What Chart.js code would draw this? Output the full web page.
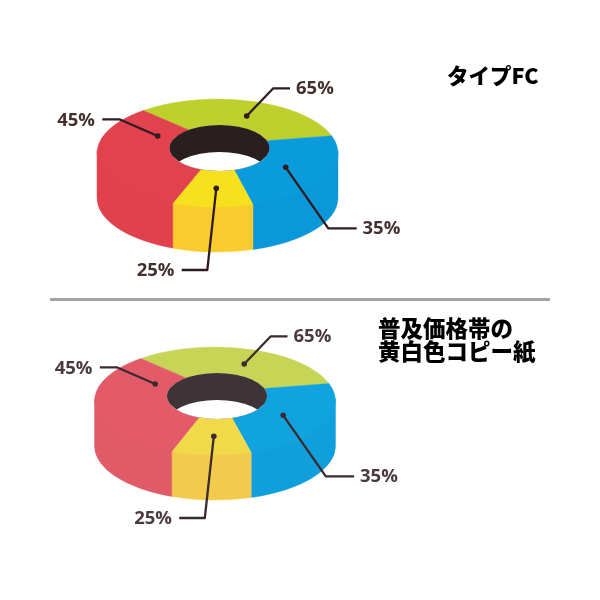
<!DOCTYPE html>
<html lang="ja">
<head>
<meta charset="utf-8">
<title>タイプFC / 普及価格帯の黄白色コピー紙</title>
<script src="https://cdn.jsdelivr.net/npm/chart.js@4"></script>
<style>
  html, body { margin: 0; padding: 0; background: #fff; }
  #page { position: relative; width: 600px; height: 600px; overflow: hidden; }
  canvas { position: absolute; left: 0; }
  #top { top: 0; }
  #bottom { top: 300px; }
  #rule { position: absolute; left: 50px; top: 298px; width: 500px; height: 3px; background: #a3a3a3; }
</style>
</head>
<body>
<div id="page">
  <canvas id="top" width="600" height="300"></canvas>
  <canvas id="bottom" width="600" height="300"></canvas>
  <div id="rule"></div>
</div>
<script>
// printed percentages, clockwise from the green slice
const percents = [65, 35, 25, 45];
// how much of the ring each slice takes in the picture (the printed numbers don't sum to 100)
const ringSharesFC = [30.4, 25.4, 10.8, 33.4];
const ringSharesPlain = [30.3, 25.4, 10.7, 33.6];
const titleFC = ['タイプFC'];
const titlePlain = ['普及価格帯の', '黄白色コピー紙'];

const topColorsFC = ['#bdd02e', '#0a9bdd', '#f7e01e', '#e1424e'];
const wallColorsFC = ['#bdd02e', '#0b98da', '#f9cc2d', '#e0414d'];
const topColorsPlain = ['#c6d556', '#10a3df', '#f0da4a', '#e35b69'];
const wallColorsPlain = ['#c6d556', '#0f9fdc', '#f2cb4d', '#e05a67'];

// ring shape, in px of the top canvas; the lower chart is the same shape shifted
const ring = { cx: 217.5, cy: 153, rx: 120.5, ry: 54, depth: 45 };
const hole = { cx: 219.5, cy: 148, rx: 50, ry: 23, depth: 27 };

// leader lines for the labels, same order as percents
const leaders = [
  { pts: [[246.7, 116], [273.3, 88.3], [290, 88.3]], x: 296, y: 89, align: 'left' },
  { pts: [[285.7, 167.3], [328.3, 228.3], [356.7, 228.3]], x: 362.5, y: 229, align: 'left' },
  { pts: [[216.3, 188.3], [207.3, 270], [181.7, 270]], x: 174.5, y: 271, align: 'right' },
  { pts: [[157.7, 136], [119.3, 119.3], [102.3, 119.3]], x: 95, y: 121, align: 'right' }
];

// arc whose top face sits on the tilted ring, the hole is a little off centre
class FaceArc extends Chart.ArcElement {
  static id = 'faceArc';
  draw(ctx) {
    ctx.beginPath();
    ctx.ellipse(ring.cx, ring.cy, ring.rx, ring.ry, 0, this.startAngle, this.endAngle);
    ctx.ellipse(hole.cx, hole.cy, hole.rx, hole.ry, 0, this.endAngle, this.startAngle, true);
    ctx.closePath();
    ctx.fillStyle = this.options.backgroundColor;
    ctx.strokeStyle = this.options.backgroundColor;
    ctx.lineWidth = 0.4;
    ctx.fill();
    ctx.stroke();
  }
}

class RingController extends Chart.DoughnutController {
  static id = 'ring';
  static defaults = Object.assign({}, Chart.DoughnutController.defaults, { dataElementType: 'faceArc' });
  static overrides = Chart.DoughnutController.overrides;
}

Chart.register(FaceArc, RingController);

const ring3d = {
  id: 'ring3d',
  // side walls first, from the arc elements' own angles
  beforeDatasetsDraw(chart, args, opts) {
    const ctx = chart.ctx;
    const arcs = chart.getDatasetMeta(0).data;
    ctx.save();
    ctx.translate(opts.dx, opts.dy);
    arcs.forEach((arc, i) => {
      const a = Math.max(arc.startAngle, 0);
      const b = Math.min(arc.endAngle, Math.PI);
      if (b <= a) return;
      ctx.beginPath();
      // starts a bit above the rim so no light seam shows under the top face
      ctx.ellipse(ring.cx, ring.cy - 2, ring.rx, ring.ry, 0, a, b);
      ctx.ellipse(ring.cx, ring.cy + ring.depth, ring.rx, ring.ry, 0, b, a, true);
      ctx.closePath();
      ctx.fillStyle = opts.wallColors[i];
      ctx.strokeStyle = opts.wallColors[i];
      ctx.lineWidth = 0.4;
      ctx.fill();
      ctx.stroke();
    });
    ctx.restore();
  },
  beforeDatasetDraw(chart, args, opts) {
    chart.ctx.save();
    chart.ctx.translate(opts.dx, opts.dy);
  },
  afterDatasetDraw(chart) {
    chart.ctx.restore();
  },
  afterDatasetsDraw(chart, args, opts) {
    const ctx = chart.ctx;
    ctx.save();
    ctx.translate(opts.dx, opts.dy);

    // hole: dark inner wall, white where you see through
    ctx.save();
    ctx.beginPath();
    ctx.ellipse(hole.cx, hole.cy, hole.rx, hole.ry, 0, 0, Math.PI * 2);
    ctx.fillStyle = opts.holeColor;
    ctx.fill();
    ctx.clip();
    ctx.beginPath();
    ctx.ellipse(hole.cx, hole.cy + hole.depth, hole.rx, hole.ry, 0, 0, Math.PI * 2);
    ctx.fillStyle = '#fff';
    ctx.fill();
    ctx.restore();

    // leaders and labels
    ctx.strokeStyle = opts.leaderColor;
    ctx.fillStyle = opts.leaderColor;
    ctx.lineWidth = 2.3;
    ctx.lineJoin = 'round';
    leaders.forEach((l) => {
      ctx.beginPath();
      l.pts.forEach((p, i) => (i ? ctx.lineTo(p[0], p[1]) : ctx.moveTo(p[0], p[1])));
      ctx.stroke();
      ctx.beginPath();
      ctx.arc(l.pts[0][0], l.pts[0][1], 2.8, 0, Math.PI * 2);
      ctx.fill();
    });
    ctx.fillStyle = opts.textColor;
    ctx.font = '700 18.5px "Open Sans"';
    ctx.textBaseline = 'middle';
    percents.forEach((v, i) => {
      ctx.textAlign = leaders[i].align;
      ctx.fillText(v + '%', leaders[i].x, leaders[i].y);
    });
    ctx.restore();
  }
};

function makeRing(id, shares, topColors, wallColors, title, titleLeft, titleTop, look) {
  return new Chart(document.getElementById(id), {
    type: 'ring',
    data: {
      labels: percents.map((v) => v + '%'),
      datasets: [{ data: shares, backgroundColor: topColors, borderWidth: 0, clip: false }]
    },
    options: {
      responsive: false,
      animation: false,
      rotation: -38,
      layout: { padding: { left: titleLeft } },
      plugins: {
        legend: { display: false },
        tooltip: { enabled: false },
        title: {
          display: true,
          text: title,
          align: 'start',
          color: '#000',
          font: { family: '"Noto Sans CJK JP"', size: look.titleSize, weight: '900', lineHeight: look.titleLine },
          padding: { top: titleTop, bottom: 0 }
        },
        ring3d: Object.assign({ wallColors: wallColors }, look)
      }
    },
    plugins: [ring3d]
  });
}

makeRing('top', ringSharesFC, topColorsFC, wallColorsFC, titleFC, 447, 64, {
  dx: 0, dy: 0, holeColor: '#2a1f20', leaderColor: '#2f1c20', textColor: '#43302f', titleSize: 21.5, titleLine: 1.1
});
makeRing('bottom', ringSharesPlain, topColorsPlain, wallColorsPlain, titlePlain, 378, 17, {
  dx: -2.5, dy: -52, holeColor: '#3e3336', leaderColor: '#3b2b2f', textColor: '#4a3a40', titleSize: 22.5, titleLine: 1.02
});
</script>
</body>
</html>
